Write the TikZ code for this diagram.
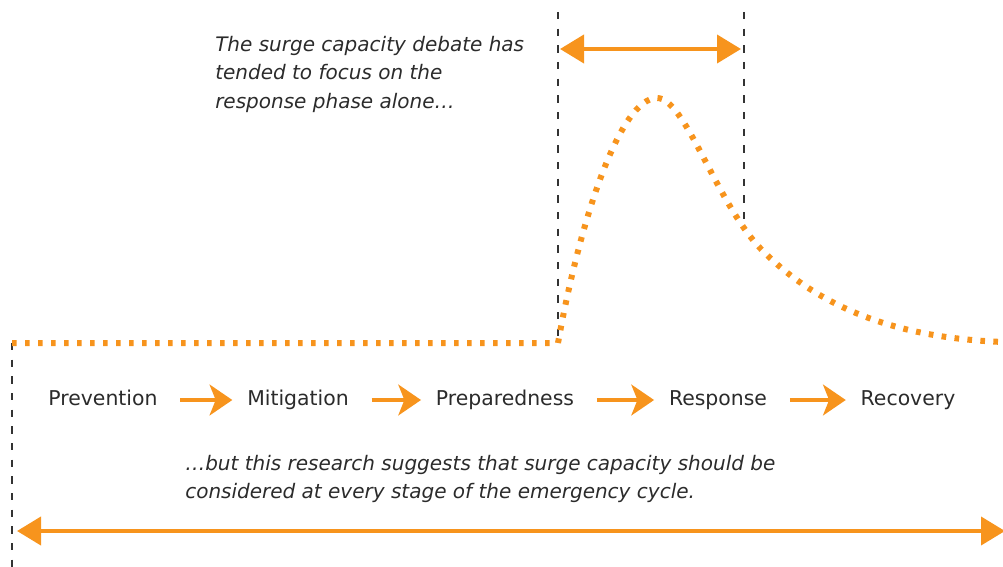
\documentclass[tikz,border=0pt]{standalone}
\usepackage{fontspec}
\setmainfont{DejaVu Sans}
\usetikzlibrary{arrows.meta, positioning}
\definecolor{surgeorange}{HTML}{F7941D}
\definecolor{textgray}{HTML}{2B2B2B}
\definecolor{guidegray}{HTML}{333333}

\begin{document}
\begin{tikzpicture}[x=0.75pt, y=-0.75pt,
    guide/.style={guidegray, line width=1.25pt, dash pattern=on 5.5pt off 7pt},
    surge/.style={surgeorange, line width=4.5pt, dash pattern=on 3.5pt off 6.25pt},
    span/.style={surgeorange, line width=3pt, {Triangle[length=18pt,width=21pt]}-{Triangle[length=18pt,width=21pt]}},
    stage/.style={font=\fontsize{15.3}{18}\selectfont, text=textgray, inner sep=0pt, text height=11pt, text depth=3.5pt, anchor=base},
    note/.style={font=\fontsize{15}{21.3}\selectfont\itshape, text=textgray, align=left, inner sep=0pt, anchor=north west},
    flow/.style={surgeorange, line width=3.5pt, shorten <=17pt, shorten >=11pt, -{Stealth[length=17pt,width=23pt,inset=4.5pt]}}
]
    \useasboundingbox (0,0) rectangle (1003,567);

    % Guide lines
    \coordinate (resptop) at (558,12);
    \coordinate (respbot) at (558,343);
    \coordinate (peaktop) at (744,12);
    \coordinate (peakbot) at (744,226);
    \coordinate (cycletop) at (12,343);
    \coordinate (cyclebot) at (12,567);
    \draw[guide] (resptop) -- (respbot);
    \draw[guide] (peaktop) -- (peakbot);
    \draw[guide] (cycletop) -- (cyclebot);

    % Surge curve
    \draw[surge] (cycletop) -- (respbot)
        .. controls (580,220) and (620,98) .. (657,98)
        .. controls (685,98) and (715,200) .. (760,248)
        .. controls (820,310) and (900,338) .. (1003,342);

    % Spans
    \coordinate (respleft) at (560,49);
    \coordinate (respright) at (741,49);
    \coordinate (cycleleft) at (17,531);
    \coordinate (cycleright) at (1005,531);
    \draw[span] (respleft) -- (respright);
    \draw[span] (cycleleft) -- (cycleright);

    % Emergency cycle
    \node[stage] (prevention) at (103,405) {Prevention};
    \node[stage] (mitigation) at (298,405) {Mitigation};
    \node[stage] (preparedness) at (505,405) {Preparedness};
    \node[stage] (response) at (718,405) {Response};
    \node[stage] (recovery) at (908,405) {Recovery};
    \draw[flow] (prevention) -- (mitigation);
    \draw[flow] (mitigation) -- (preparedness);
    \draw[flow] (preparedness) -- (response);
    \draw[flow] (response) -- (recovery);

    % Annotations
    \node[note] (debate) at (215,36) {The surge capacity debate has\\tended to focus on the\\response phase alone…};
    \node[note] (research) at (185,455) {…but this research suggests that surge capacity should be\\considered at every stage of the emergency cycle.};
\end{tikzpicture}
\end{document}
